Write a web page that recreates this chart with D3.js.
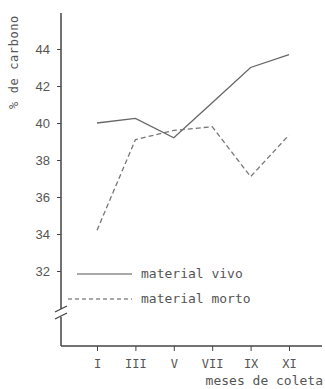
<!DOCTYPE html>
<html>
<head>
<meta charset="utf-8">
<script src="https://cdn.jsdelivr.net/npm/d3@7"></script>
<style>
	body { margin: 0; background: #fff; }
	svg text { fill: #555; }
	.mono { font-family: "DejaVu Sans Mono", monospace; }
</style>
</head>
<body>
<svg id="chart" width="325" height="389"></svg>
<script>
var meses = ['I', 'III', 'V', 'VII', 'IX', 'XI'];
var materialVivo = [40.0, 40.25, 39.2, 41.1, 43.0, 43.7];
var materialMorto = [34.2, 39.1, 39.6, 39.8, 37.1, 39.35];
var yTicks = [32, 34, 36, 38, 40, 42, 44];

var ink = '#555';
var svg = d3.select('svg#chart');

var x = d3.scalePoint().domain(meses).range([97, 289]);
var y = d3.scaleLinear().domain([32, 44]).range([271, 49]);

var axisX = 61, axisY = 346;

// y axis line, broken near the bottom
svg.append('line')
	.attr('x1', axisX).attr('x2', axisX).attr('y1', 13).attr('y2', 309)
	.attr('stroke', '#444').attr('stroke-width', 1.5);
svg.append('line')
	.attr('x1', axisX).attr('x2', axisX).attr('y1', 317).attr('y2', axisY)
	.attr('stroke', '#444').attr('stroke-width', 1.5);
[308, 315].forEach(function( b ) {
	svg.append('line')
		.attr('x1', axisX - 6).attr('y1', b + 4)
		.attr('x2', axisX + 6).attr('y2', b - 2)
		.attr('stroke', '#444').attr('stroke-width', 1.3);
});

// x axis line
svg.append('line')
	.attr('x1', axisX).attr('x2', 322).attr('y1', axisY).attr('y2', axisY)
	.attr('stroke', '#444').attr('stroke-width', 1.5);

var yAxis = svg.append('g')
	.attr('transform', 'translate(' + axisX + ',0)')
	.call(d3.axisLeft(y).tickValues(yTicks).tickSize(4).tickPadding(7));
yAxis.select('.domain').remove();
yAxis.selectAll('line').attr('stroke', '#444');
yAxis.selectAll('text')
	.attr('font-family', '"Liberation Sans", Arial, sans-serif')
	.attr('font-size', 13)
	.attr('fill', ink);

var xAxis = svg.append('g')
	.attr('transform', 'translate(0,' + axisY + ')')
	.call(d3.axisBottom(x).tickSize(5).tickPadding(8));
xAxis.select('.domain').remove();
xAxis.selectAll('line').attr('stroke', '#444');
xAxis.selectAll('text')
	.attr('class', 'mono')
	.attr('font-size', 12)
	.attr('fill', ink);

var line = d3.line()
	.x(function( d, i ) { return x(meses[i]); })
	.y(function( d ) { return y(d); });

svg.append('path')
	.datum(materialVivo)
	.attr('d', line)
	.attr('fill', 'none')
	.attr('stroke', '#666')
	.attr('stroke-width', 1.3);

svg.append('path')
	.datum(materialMorto)
	.attr('d', line)
	.attr('fill', 'none')
	.attr('stroke', '#777')
	.attr('stroke-width', 1.3)
	.attr('stroke-dasharray', '5,3');

// legend
svg.append('line')
	.attr('x1', 77).attr('x2', 132).attr('y1', 274).attr('y2', 274)
	.attr('stroke', '#555').attr('stroke-width', 1.2);
svg.append('line')
	.attr('x1', 68).attr('x2', 132).attr('y1', 299).attr('y2', 299)
	.attr('stroke', '#555').attr('stroke-width', 1.2)
	.attr('stroke-dasharray', '4,3');
svg.append('text').attr('class', 'mono')
	.attr('x', 141).attr('y', 278).attr('font-size', 13)
	.text('material vivo');
svg.append('text').attr('class', 'mono')
	.attr('x', 141).attr('y', 303).attr('font-size', 13)
	.text('material morto');

// axis titles
svg.append('text').attr('class', 'mono')
	.attr('x', 323).attr('y', 385).attr('font-size', 13)
	.attr('text-anchor', 'end')
	.text('meses de coleta');
svg.append('text').attr('class', 'mono')
	.attr('transform', 'translate(18,62) rotate(-90)')
	.attr('text-anchor', 'middle')
	.attr('font-size', 12)
	.attr('letter-spacing', 0.6)
	.text('% de carbono');
</script>
</body>
</html>
